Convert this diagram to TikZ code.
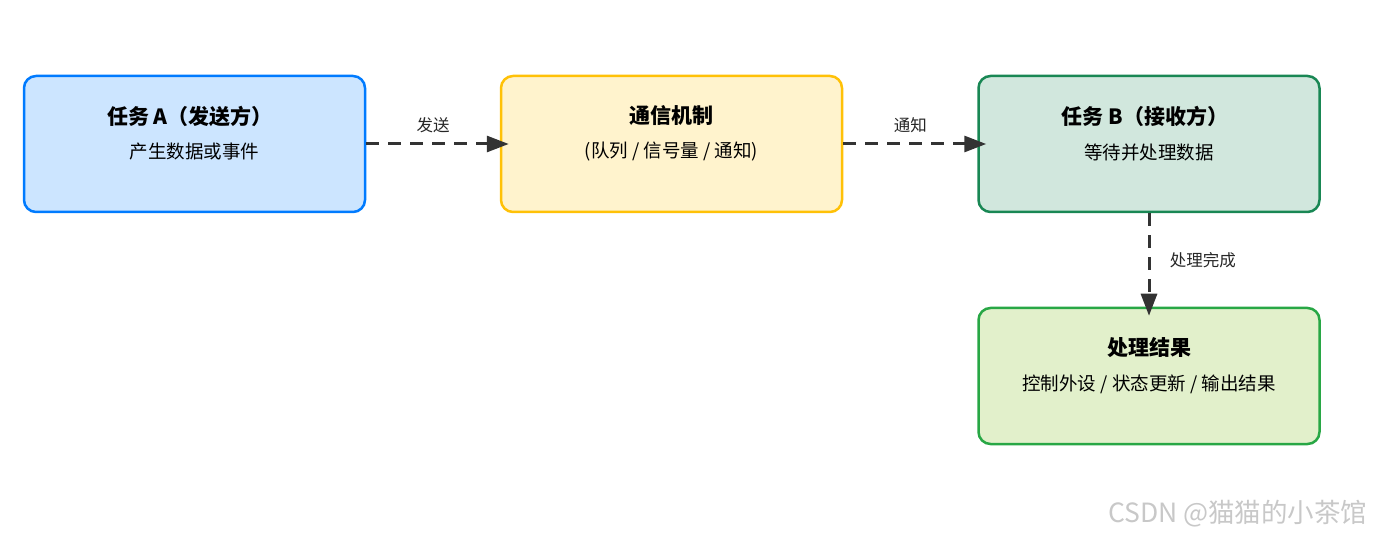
\documentclass[tikz,border=0pt]{standalone}
\usepackage{fontspec}
\setmainfont{Noto Sans CJK SC}
\usetikzlibrary{arrows.meta}
\definecolor{aFill}{HTML}{CCE5FF}\definecolor{aLine}{HTML}{007BFF}
\definecolor{cFill}{HTML}{FFF3CD}\definecolor{cLine}{HTML}{FFC107}
\definecolor{bFill}{HTML}{D1E7DD}\definecolor{bLine}{HTML}{198754}
\definecolor{rFill}{HTML}{E2F0CB}\definecolor{rLine}{HTML}{28A745}
\definecolor{arr}{HTML}{333333}
\definecolor{wm}{HTML}{C8C8C8}
\tikzset{
  boxnode/.style={draw, line width=2.5pt, rounded corners=12pt, minimum width=341pt, minimum height=136pt, inner sep=0pt},
  titletext/.style={font=\fontsize{21}{24}\selectfont\bfseries, text=black},
  subtext/.style={font=\fontsize{18.5}{21}\selectfont, text=black},
  lbl/.style={font=\fontsize{16.5}{19}\selectfont, text=black!85},
  flow/.style={draw=arr, line width=3pt, dash pattern=on 13pt off 9pt, -{Triangle[length=22pt,width=16pt]}, shorten >=-9pt},
}
\begin{document}
\begin{tikzpicture}[x=1pt,y=-1pt]
\useasboundingbox (0,0) rectangle (1374,537);
\node[boxnode, fill=aFill, draw=aLine] (A) at (194.5,144) {};
\node[boxnode, fill=cFill, draw=cLine] (C) at (671.5,144) {};
\node[boxnode, fill=bFill, draw=bLine] (B) at (1149,144) {};
\node[boxnode, fill=rFill, draw=rLine] (R) at (1149,376) {};
\node[titletext] (At) at (190,116) {任务 A（发送方）};
\node[subtext] (As) at (194.5,152) {产生数据或事件};
\node[titletext] (Ct) at (671.5,116) {通信机制};
\node[subtext] (Cs) at (671.5,152) {(队列 / 信号量 / 通知)};
\node[titletext] (Bt) at (1145,116) {任务 B（接收方）};
\node[subtext] (Bs) at (1149,152) {等待并处理数据};
\node[titletext] (Rt) at (1149,348) {处理结果};
\node[subtext] (Rs) at (1149,384) {控制外设 / 状态更新 / 输出结果};
\draw[flow] (A.east) -- (C.west) node[lbl, midway, above=6pt] (l1) {发送};
\draw[flow] (C.east) -- (B.west) node[lbl, midway, above=6pt] (l2) {通知};
\draw[flow] (B.south) -- (R.north) node[lbl, midway, right=16pt] (l3) {处理完成};
\node[font=\fontsize{26.5}{30}\selectfont, text=wm, anchor=east] (wmk) at (1371,514) {CSDN @猫猫的小茶馆};
\end{tikzpicture}
\end{document}
